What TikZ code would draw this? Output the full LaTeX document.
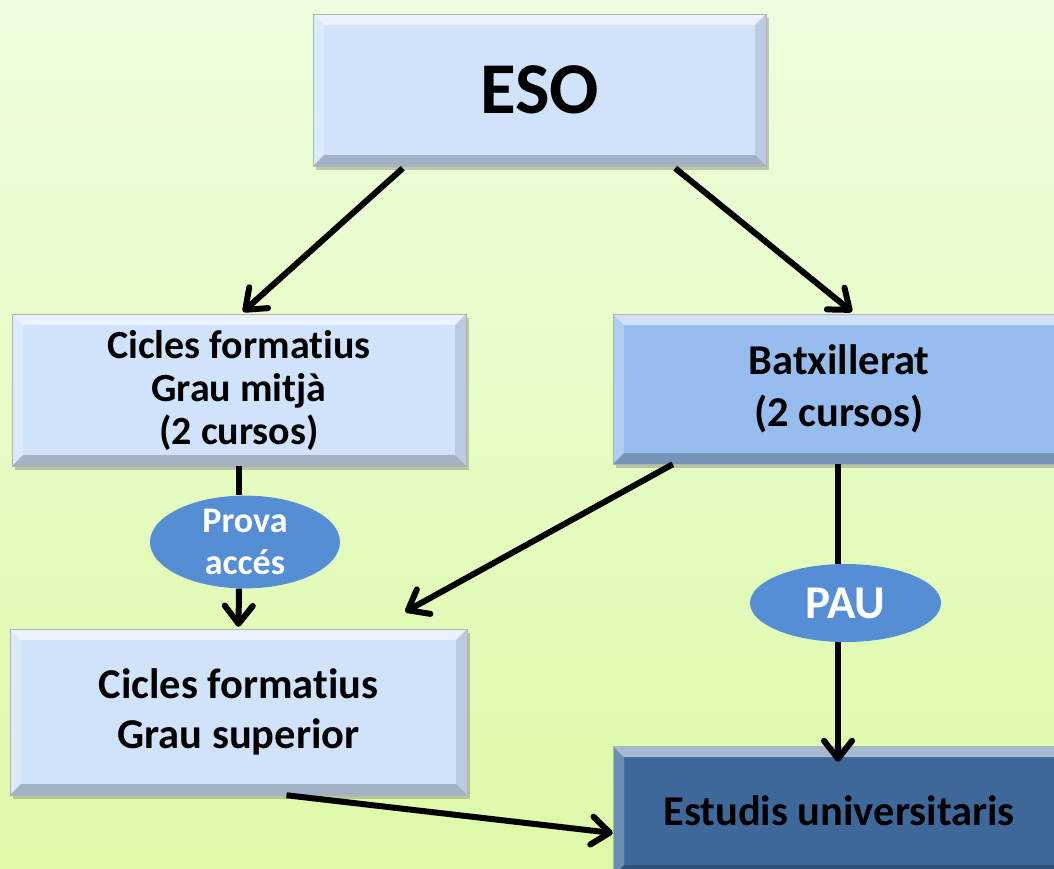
\documentclass[tikz,border=0pt]{standalone}
\usepackage{fontspec}
\setmainfont{Carlito}[Ligatures=NoCommon]
\usetikzlibrary{arrows.meta,shapes.geometric,shadows,calc}
\definecolor{bgtop}{RGB}{238,254,222}
\definecolor{bgbot}{RGB}{221,250,168}
\definecolor{lightbox}{RGB}{208,227,251}
\definecolor{midbox}{RGB}{151,189,238}
\definecolor{darkbox}{RGB}{62,104,153}
\definecolor{ellblue}{RGB}{85,142,213}
\tikzset{
  bevel/.style={path picture={
    \fill[white,opacity=0.55] (path picture bounding box.north west) -- (path picture bounding box.north east) -- ([xshift=-11pt,yshift=-11pt]path picture bounding box.north east) -- ([xshift=11pt,yshift=-11pt]path picture bounding box.north west) -- cycle;
    \fill[white,opacity=0.25] (path picture bounding box.north west) -- ([xshift=11pt,yshift=-11pt]path picture bounding box.north west) -- ([xshift=11pt,yshift=11pt]path picture bounding box.south west) -- (path picture bounding box.south west) -- cycle;
    \fill[black,opacity=0.10] (path picture bounding box.north east) -- ([xshift=-11pt,yshift=-11pt]path picture bounding box.north east) -- ([xshift=-11pt,yshift=11pt]path picture bounding box.south east) -- (path picture bounding box.south east) -- cycle;
    \fill[black,opacity=0.22] (path picture bounding box.south west) -- ([xshift=11pt,yshift=11pt]path picture bounding box.south west) -- ([xshift=-11pt,yshift=11pt]path picture bounding box.south east) -- (path picture bounding box.south east) -- cycle;
  }},
  box/.style={rectangle, bevel, draw=black!30, line width=0.5pt, align=center, inner sep=0pt,
    font=\bfseries, text=black,
    drop shadow={shadow xshift=3pt, shadow yshift=-4pt, opacity=0.35, fill=black!60}},
  oval/.style={ellipse, fill=ellblue, draw=none, inner sep=0pt, align=center, text=white, font=\bfseries},
  conn/.style={line width=6pt, black},
  arr/.style={conn, -{Straight Barb[length=18pt,width=28pt,line cap=round,line join=round]}},
}
\begin{document}
\begin{tikzpicture}[x=1pt,y=-1pt]
\useasboundingbox (0,0) rectangle (1054,868);
\clip (0,0) rectangle (1054,868);
\shade[top color=bgtop, bottom color=bgbot] (0,0) rectangle (1054,868);

\node[box, fill=lightbox, minimum width=453pt, minimum height=152pt,
  font=\bfseries\fontsize{73}{80}\selectfont] (eso) at (539.5,90) {ESO};
\node[box, fill=lightbox, minimum width=454pt, minimum height=152pt,
  font=\bfseries\fontsize{40}{43}\selectfont] (cfgm) at (239,390) {Cicles formatius\\Grau mitjà\\(2 cursos)};
\node[box, fill=midbox, minimum width=452pt, minimum height=150pt,
  font=\bfseries\fontsize{42.5}{52}\selectfont] (batx) at (839,389) {\raisebox{-4pt}{Batxillerat}\\\raisebox{-4pt}{(2 cursos)}};
\node[box, fill=lightbox, minimum width=457pt, minimum height=166pt,
  font=\bfseries\fontsize{42.5}{50}\selectfont] (cfgs) at (238.5,712) {Cicles formatius\\Grau superior};
\node[box, fill=darkbox, minimum width=452pt, minimum height=130pt,
  font=\bfseries\fontsize{42.5}{48}\selectfont] (est) at (839,811) {Estudis universitaris};

\node[oval, minimum width=190pt, minimum height=87pt,
  font=\bfseries\fontsize{36}{42}\selectfont] (prova) at (245,542) {Prova\\accés};
\node[oval, minimum width=191pt, minimum height=78pt,
  font=\bfseries\fontsize{47}{50}\selectfont] (pau) at (845.5,603) {PAU};

\draw[arr] ([xshift=90pt,yshift=-2pt]eso.south west) -- ([xshift=4pt,yshift=2pt]cfgm.north);
\draw[arr] ([xshift=-91pt,yshift=-2pt]eso.south east) -- ([xshift=13pt,yshift=2pt]batx.north);
\draw[conn] (cfgm.south) -- (cfgm.south |- prova.north);
\draw[arr] (cfgm.south |- prova.south) -- ([yshift=2pt]cfgs.north);
\draw[arr] ([xshift=60pt]batx.south west) -- ([xshift=-62pt,yshift=17pt]cfgs.north east);
\draw[conn] ([xshift=-1pt]batx.south) -- ([xshift=-1pt]batx.south |- pau.north);
\draw[arr] ([xshift=-1pt]batx.south |- pau.south) -- ([xshift=-1pt,yshift=-16pt]est.north);
\draw[arr] ([xshift=48pt]cfgs.south) -- ([yshift=-22pt]est.west);
\end{tikzpicture}
\end{document}
